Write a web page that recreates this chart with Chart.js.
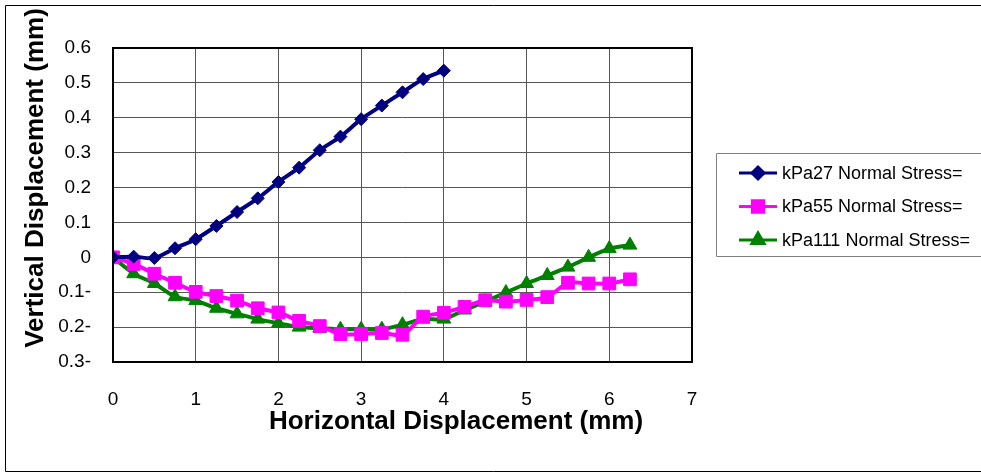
<!DOCTYPE html>
<html>
<head>
<meta charset="utf-8">
<script src="https://cdn.jsdelivr.net/npm/chart.js@4.4.1/dist/chart.umd.min.js"></script>
<style>
  html, body { margin: 0; padding: 0; background: #fff; }
  #wrap { width: 981px; height: 474px; }
</style>
</head>
<body>
<div id="wrap"><canvas id="shearChart"></canvas></div>
<script>
// horizontal displacement (mm)
const xShort = [0, 0.25, 0.5, 0.75, 1, 1.25, 1.5, 1.75, 2, 2.25, 2.5, 2.75, 3, 3.25, 3.5, 3.75, 4];
const xLong  = [0, 0.25, 0.5, 0.75, 1, 1.25, 1.5, 1.75, 2, 2.25, 2.5, 2.75, 3, 3.25, 3.5, 3.75, 4,
                4.25, 4.5, 4.75, 5, 5.25, 5.5, 5.75, 6, 6.25];

// vertical displacement (mm)
const stress27  = [0, 0.002, -0.002, 0.026, 0.052, 0.09, 0.13, 0.169, 0.216, 0.257, 0.307, 0.346,
                   0.396, 0.435, 0.473, 0.511, 0.535];
const stress55  = [0, -0.019, -0.047, -0.073, -0.099, -0.111, -0.124, -0.146, -0.158, -0.182, -0.197,
                   -0.22, -0.22, -0.217, -0.222, -0.17, -0.159, -0.142, -0.123, -0.127, -0.122, -0.114,
                   -0.073, -0.075, -0.075, -0.063];
const stress111 = [0, -0.047, -0.075, -0.113, -0.124, -0.146, -0.162, -0.177, -0.189, -0.2, -0.203,
                   -0.206, -0.206, -0.206, -0.193, -0.177, -0.177, -0.151, -0.127, -0.101, -0.075,
                   -0.052, -0.028, 0.0, 0.025, 0.035];

const seriesLabels = ['kPa27 Normal Stress=', 'kPa55 Normal Stress=', 'kPa111 Normal Stress='];
const xTitle = 'Horizontal Displacement (mm)';
const yTitle = 'Vertical Displacement (mm)';

const FONT = '"Liberation Sans", Arial, sans-serif';

function toPoints(xs, ys) {
    return xs.map((x, i) => ({ x: x, y: ys[i] }));
}

function yTickLabel(v) {
    const r = Math.round(v * 10) / 10;
    if (r === 0) return '0';
    if (r < 0) return Math.abs(r).toFixed(1) + '-';
    return r.toFixed(1);
}

const styles = [
    { color: '#000080', point: 'rectRot',  radius: 6.5, legendRadius: 6 },
    { color: '#FF00FF', point: 'rect',     radius: 9,   legendRadius: 8 },
    { color: '#008000', point: 'triangle', radius: 8,   legendRadius: 7 }
];

// frame, outer border, axis titles and boxed legend
const decor = {
    id: 'decor',
    afterDraw(chart) {
        const ctx = chart.ctx;
        const a = chart.chartArea;
        ctx.save();

        ctx.strokeStyle = '#000';
        ctx.lineWidth = 2;
        ctx.strokeRect(a.left, a.top, a.right - a.left, a.bottom - a.top);

        ctx.lineWidth = 1;
        ctx.beginPath();
        ctx.moveTo(981, 5.5); ctx.lineTo(5.5, 5.5); ctx.lineTo(5.5, 471.5); ctx.lineTo(981, 471.5);
        ctx.stroke();

        ctx.fillStyle = '#000';
        ctx.font = 'bold 26px ' + FONT;
        ctx.textAlign = 'center';
        ctx.textBaseline = 'middle';
        ctx.fillText(xTitle, 456, 422);
        ctx.translate(36, 178);
        ctx.rotate(-Math.PI / 2);
        ctx.fillText(yTitle, 0, 0);
        ctx.setTransform(1, 0, 0, 1, 0, 0);

        ctx.strokeStyle = '#808080';
        ctx.lineWidth = 1;
        ctx.beginPath();
        ctx.moveTo(990, 153.5); ctx.lineTo(716.5, 153.5); ctx.lineTo(716.5, 256.5); ctx.lineTo(990, 256.5);
        ctx.stroke();

        ctx.font = '18px ' + FONT;
        ctx.textAlign = 'left';
        chart.data.datasets.forEach((ds, i) => {
            const y = 173 + i * 33.5;
            ctx.strokeStyle = ds.borderColor;
            ctx.lineWidth = 3;
            ctx.beginPath();
            ctx.moveTo(739, y); ctx.lineTo(777, y);
            ctx.stroke();
            Chart.helpers.drawPoint(ctx, {
                pointStyle: ds.pointStyle, radius: styles[i].legendRadius, borderWidth: 1
            }, 758, y);
            ctx.fillStyle = ds.borderColor;
            ctx.fill();
            ctx.fillStyle = '#000';
            ctx.fillText(ds.label, 782, y + 1);
        });
        ctx.restore();
    }
};

const ctx = document.getElementById('shearChart').getContext('2d');
new Chart(ctx, {
    type: 'line',
    data: {
        datasets: [
            { label: seriesLabels[0], data: toPoints(xShort, stress27) },
            { label: seriesLabels[1], data: toPoints(xLong, stress55) },
            { label: seriesLabels[2], data: toPoints(xLong, stress111) }
        ].map((ds, i) => Object.assign(ds, {
            borderColor: styles[i].color,
            backgroundColor: styles[i].color,
            pointBackgroundColor: styles[i].color,
            pointBorderColor: styles[i].color,
            pointStyle: styles[i].point,
            pointRadius: styles[i].radius,
            pointBorderWidth: 1,
            borderWidth: 4,
            tension: 0.25,
            fill: false
        }))
    },
    options: {
        responsive: true,
        maintainAspectRatio: false,
        animation: false,
        layout: { padding: { left: 0, top: 48, right: 289, bottom: 0 } },
        scales: {
            x: {
                type: 'linear', min: 0, max: 7,
                afterFit: s => { s.height = 112; },
                grid: { color: '#555', lineWidth: 1, drawTicks: false },
                border: { display: false },
                ticks: { stepSize: 1, padding: 26, color: '#000', font: { family: FONT, size: 19 } }
            },
            y: {
                type: 'linear', min: -0.3, max: 0.6,
                afterFit: s => { s.width = 113; },
                grid: { color: '#555', lineWidth: 1, drawTicks: false },
                border: { display: false },
                ticks: { stepSize: 0.1, padding: 22, color: '#000', font: { family: FONT, size: 19 },
                         callback: yTickLabel }
            }
        },
        plugins: {
            legend: { display: false },
            tooltip: { enabled: false }
        }
    },
    plugins: [decor]
});
</script>
</body>
</html>
